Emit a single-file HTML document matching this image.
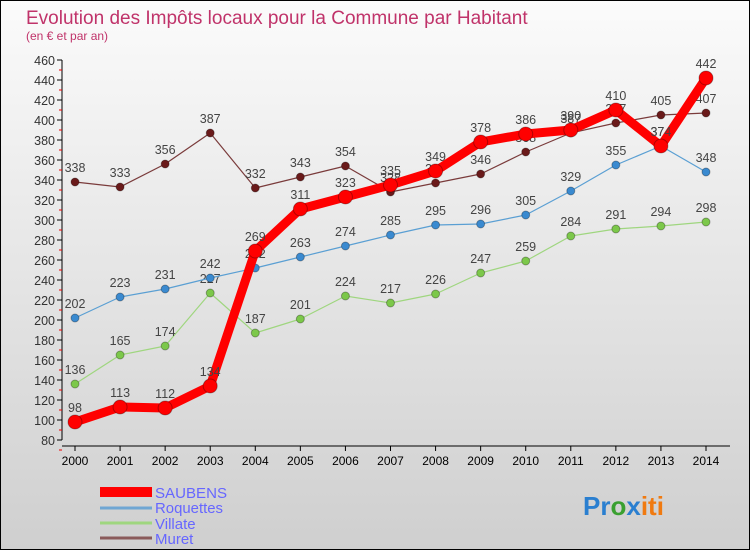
<!DOCTYPE html>
<html><head><meta charset="utf-8"><style>
body{margin:0;width:750px;height:550px;overflow:hidden;font-family:"Liberation Sans",sans-serif}
</style></head><body>
<svg width="750" height="550" xmlns="http://www.w3.org/2000/svg">
<defs><linearGradient id="bg" x1="0" y1="0" x2="0" y2="1"><stop offset="0" stop-color="#fbfbfb"/><stop offset="1" stop-color="#cfcfcf"/></linearGradient></defs>
<rect x="0.5" y="0.5" width="749" height="549" fill="url(#bg)" stroke="#000"/>
<text x="26" y="24" font-size="19" fill="#c0336a">Evolution des Impôts locaux pour la Commune par Habitant</text>
<text x="26" y="40" font-size="12" fill="#c0336a">(en € et par an)</text>
<g id="axes"></g>
<g id="series"></g>
<g>
<rect x="100" y="487" width="52" height="10" fill="#f00"/>
<text x="155" y="498" font-size="15" fill="#6666ff" textLength="72" lengthAdjust="spacingAndGlyphs">SAUBENS</text>
<line x1="100" y1="508" x2="152" y2="508" stroke="#6fa6d3" stroke-width="3"/>
<text x="155" y="513" font-size="15" fill="#6666ff" textLength="68" lengthAdjust="spacingAndGlyphs">Roquettes</text>
<line x1="100" y1="523" x2="152" y2="523" stroke="#9fd67f" stroke-width="3"/>
<text x="155" y="529" font-size="15" fill="#6666ff">Villate</text>
<line x1="100" y1="538" x2="152" y2="538" stroke="#8a5a5a" stroke-width="3"/>
<text x="155" y="544" font-size="15" fill="#6666ff">Muret</text>
</g>
<text x="583" y="515" font-size="26" font-weight="bold"><tspan fill="#2a7fd0">Pr</tspan><tspan fill="#3aa030">o</tspan><tspan fill="#2a7fd0">x</tspan><tspan fill="#f07a10">iti</tspan></text>
</svg>
<script>
const years=[2000,2001,2002,2003,2004,2005,2006,2007,2008,2009,2010,2011,2012,2013,2014];
const yTicks=[80,100,120,140,160,180,200,220,240,260,280,300,320,340,360,380,400,420,440,460];
const saubens=[98,113,112,134,269,311,323,335,349,378,386,390,410,374,442];
const roquettes=[202,223,231,242,252,263,274,285,295,296,305,329,355,374,348];
const villate=[136,165,174,227,187,201,224,217,226,247,259,284,291,294,298];
const muret=[338,333,356,387,332,343,354,328,337,346,368,387,397,405,407];
const NS='http://www.w3.org/2000/svg';
const X=i=>75+i*(706-75)/(years.length-1);
const Y=v=>520-v;
function mk(t,a,p){const e=document.createElementNS(NS,t);for(const k in a)e.setAttribute(k,a[k]);p.appendChild(e);return e;}
const ax=document.getElementById('axes');
const yl=mk('line',{x1:62,y1:Y(460),x2:62,y2:Y(80),stroke:'#000'},ax);


const xl=mk('line',{x1:62,y1:Y(80)+6,x2:730,y2:Y(80)+6,stroke:'#000'},ax);


yTicks.forEach(v=>{
 mk('line',{x1:57,y1:Y(v),x2:62,y2:Y(v),stroke:'#000'},ax);
 mk('line',{x1:59,y1:Y(v)+10,x2:62,y2:Y(v)+10,stroke:'#e00'},ax);
 const t=mk('text',{x:55,y:Y(v)+5,'font-size':12.5,'text-anchor':'end',fill:'#333'},ax);t.textContent=v;
 
 
});
years.forEach((y,i)=>{
 mk('line',{x1:X(i),y1:Y(80)+6,x2:X(i),y2:Y(80)+11,stroke:'#000'},ax);
 const t=mk('text',{x:X(i),y:Y(80)+25,'font-size':12,'text-anchor':'middle',fill:'#000'},ax);t.textContent=y;
 
 
});
const sg=document.getElementById('series');
function draw(vals,name,col,dot,w,r){
 const g=mk('g',{},sg);
 
 
 mk('polyline',{points:vals.map((v,i)=>X(i)+','+Y(v)).join(' '),fill:'none',stroke:col,'stroke-width':w,'stroke-linejoin':'round'},g);
 vals.forEach((v,i)=>{
  const c=mk('circle',{cx:X(i),cy:Y(v),r:r,fill:dot,stroke:'rgba(0,0,0,0.3)'},g);
  
  
  const t=mk('text',{x:X(i),y:Y(v)-10,'font-size':12.5,'text-anchor':'middle',fill:'#444'},g);t.textContent=v;
  
  
 });
}
draw(muret,'muret','#7a3b3b','#6a1a1a',1.2,4);
draw(villate,'villate','#9fd67f','#7cc84a',1.2,4);
draw(roquettes,'roquettes','#5a9fd3','#3a8ad0',1.2,4);
draw(saubens,'saubens','#f00','#f00',9,7);
</script>
</body></html>
